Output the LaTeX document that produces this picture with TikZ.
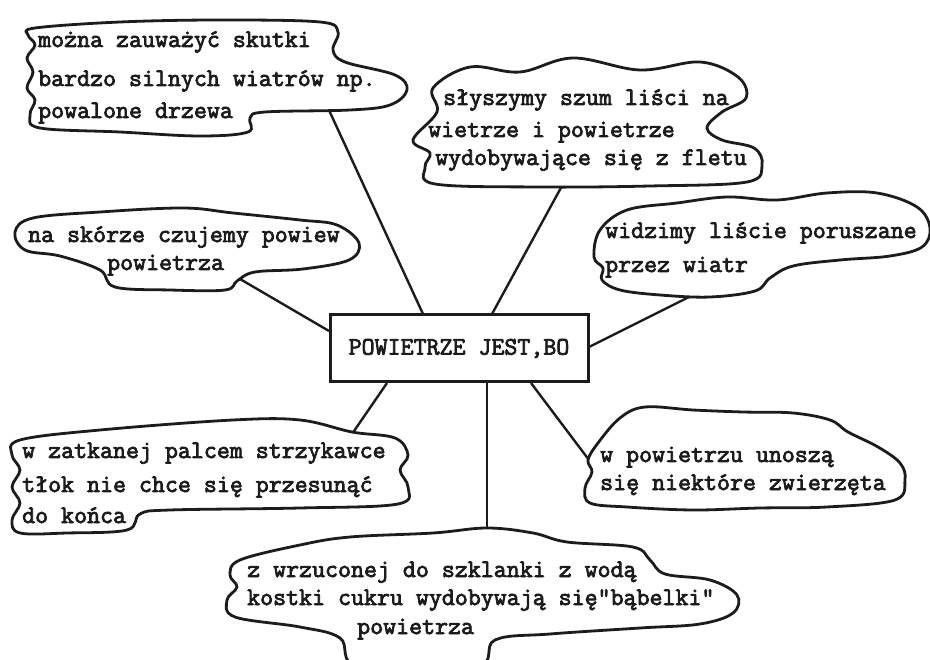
\documentclass[tikz,border=0pt]{standalone}
\usepackage{fontspec}
\newfontfamily\typewr{Latin Modern Mono}[FakeBold=3]
\definecolor{ink}{HTML}{1C1C1C}
\tikzset{
  cloudline/.style={draw=ink, line width=2.8pt, fill=white, line join=round},
  conn/.style={draw=ink, line width=2.4pt},
  txt/.style={anchor=base west, inner sep=0pt, text=ink, font=\typewr\bfseries\fontsize{25.2}{30}\selectfont},
  boxstyle/.style={draw=ink, line width=3pt, fill=white, minimum width=258pt, minimum height=67pt, inner sep=0pt, text=ink, font=\typewr\bfseries\fontsize{25.2}{30}\selectfont}
}
\begin{document}
\begin{tikzpicture}[x=1pt,y=-1pt]
\useasboundingbox[fill=white] (0,0) rectangle (930,660);
% connector end points on the clouds
\coordinate (e1) at (328,108);
\coordinate (e2) at (563,184);
\coordinate (e3) at (240,279);
\coordinate (e4) at (697,293);
\coordinate (e5) at (352,434);
\coordinate (e6) at (595,468);
\coordinate (e7) at (487,531);
% connector start points on the box
\coordinate (b1) at (423,314);
\coordinate (b2) at (492,314);
\coordinate (b3) at (329,331);
\coordinate (b4) at (589,347);
\coordinate (b5) at (387,383);
\coordinate (b6) at (531,383);
\coordinate (b7) at (487,383);
\draw[conn] (b1) -- (e1);
\draw[conn] (b2) -- (e2);
\draw[conn] (b3) -- (e3);
\draw[conn] (b4) -- (e4);
\draw[conn] (b5) -- (e5);
\draw[conn] (b6) -- (e6);
\draw[conn] (b7) -- (e7);
% central box
\node[boxstyle] (box) at (459,348.5) {POWIETRZE JEST,BO};
% cloud 1
\draw[cloudline] plot[smooth cycle, tension=0.6] coordinates {(35,28) (120,22) (220,20) (320,22) (338,32) (333,50) (345,62) (395,75) (407,90) (390,105) (350,110) (265,112) (250,118) (248,132) (200,136) (120,132) (40,128) (30,115) (35,100) (27,88) (33,72) (27,58) (35,45) (28,35)};
% cloud 2
\draw[cloudline] plot[smooth cycle, tension=0.6] coordinates {(433,88) (470,67) (520,72) (573,58) (640,70) (700,62) (738,77) (746,98) (722,112) (707,128) (722,140) (754,148) (762,165) (747,182) (650,186) (540,187) (435,184) (425,167) (430,153) (413,140) (437,112)};
% cloud 3
\draw[cloudline] plot[smooth cycle, tension=0.6] coordinates {(15,232) (33,218) (100,212) (183,208) (233,213) (300,220) (337,225) (359,243) (349,260) (303,269) (255,272) (237,281) (225,290) (170,290) (115,287) (100,270) (60,256) (25,250)};
% cloud 4
\draw[cloudline] plot[smooth cycle, tension=0.6] coordinates {(600,230) (627,210) (677,203) (727,197) (777,200) (827,193) (877,193) (917,207) (930,228) (922,247) (890,256) (840,260) (793,266) (770,278) (755,291) (710,297) (660,295) (620,290) (602,280) (603,268) (594,257)};
% cloud 5
\draw[cloudline] plot[smooth cycle, tension=0.6] coordinates {(20,440) (100,430) (233,420) (300,420) (352,432) (395,438) (408,455) (400,470) (408,487) (398,504) (300,508) (170,510) (140,514) (127,530) (67,533) (20,533) (12,520) (20,503) (12,487) (20,470) (12,455)};
% cloud 6
\draw[cloudline] plot[smooth cycle, tension=0.6] coordinates {(598,443) (620,418) (645,407) (693,410) (743,412) (793,413) (830,420) (848,432) (878,447) (900,463) (905,480) (895,500) (827,507) (760,508) (693,510) (627,507) (590,503) (585,488) (592,472) (588,460)};
% cloud 7
\draw[cloudline] plot[smooth cycle, tension=0.6] coordinates {(240,560) (300,545) (350,537) (433,533) (487,528) (533,533) (567,542) (633,547) (650,560) (665,574) (710,580) (737,595) (733,613) (700,624) (640,628) (550,634) (495,640) (475,668) (360,668) (340,638) (300,627) (235,617) (227,600) (237,587) (230,575)};
% texts
\node[txt] (t1a) at (38,47) {można zauważyć skutki};
\node[txt] (t1b) at (38,86) {bardzo silnych wiatrów np.};
\node[txt] (t1c) at (38,118) {powalone drzewa};
\node[txt] (t2a) at (443,105) {słyszymy szum liści na};
\node[txt] (t2b) at (428,137) {wietrze i powietrze};
\node[txt] (t2c) at (435,165) {wydobywające się z fletu};
\node[txt] (t3a) at (28,242) {na skórze czujemy powiew};
\node[txt] (t3b) at (107,270) {powietrza};
\node[txt] (t4a) at (605,238) {widzimy liście poruszane};
\node[txt] (t4b) at (605,272) {przez wiatr};
\node[txt] (t5a) at (22,458) {w zatkanej palcem strzykawce};
\node[txt] (t5b) at (22,492) {tłok nie chce się przesunąć};
\node[txt] (t5c) at (22,523) {do końca};
\node[txt] (t6a) at (600,462) {w powietrzu unoszą};
\node[txt] (t6b) at (600,490) {się niektóre zwierzęta};
\node[txt] (t7a) at (247,577) {z wrzuconej do szklanki z wodą};
\node[txt] (t7b) at (247,605) {kostki cukru wydobywają się"bąbelki"};
\node[txt] (t7c) at (357,634) {powietrza};
\end{tikzpicture}
\end{document}
